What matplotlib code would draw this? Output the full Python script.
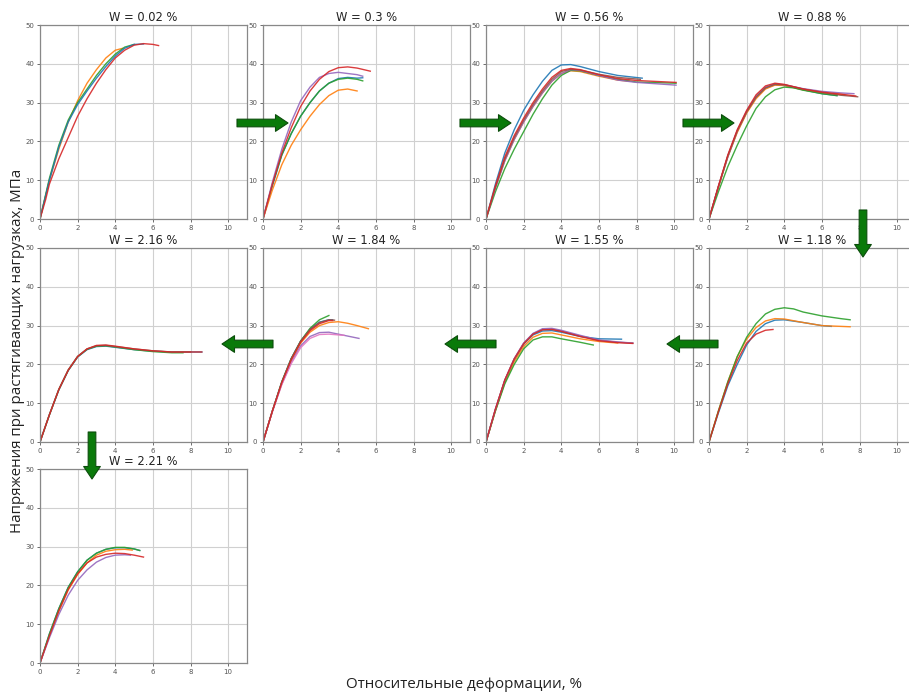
import matplotlib
matplotlib.use("Agg")
import matplotlib.pyplot as plt
from matplotlib.patches import FancyArrowPatch

# ---- data: stress-strain curves for each moisture level (strain %, stress MPa) ----
moisture = ["0.02", "0.3", "0.56", "0.88", "1.18", "1.55", "1.84", "2.16", "2.21"]

w_0_02 = [
    ("C1", [0, 0.5, 1, 1.5, 2, 2.5, 3, 3.5, 4, 4.4],
           [0, 10, 18, 25, 30.5, 35, 38.5, 41.5, 43.5, 44]),
    ("C2", [0, 0.5, 1, 1.5, 2, 2.5, 3, 3.5, 4, 4.5, 5],
           [0, 10.5, 19, 25.5, 30, 33.5, 37, 40, 42.5, 44.3, 45]),
    ("C0", [0, 0.5, 1, 1.5, 2, 2.5, 3, 3.5, 4, 4.5, 5, 5.5],
           [0, 10, 18.5, 25, 29.5, 33, 36.3, 39.3, 42, 44, 45, 45.1]),
    ("C3", [0, 0.3, 0.5, 1, 1.5, 2, 2.5, 3, 3.5, 4, 4.5, 5, 5.5, 6, 6.3],
           [0, 5, 9, 15.5, 21, 26.5, 31, 35, 38.5, 41.5, 43.5, 44.8, 45.2, 45, 44.7]),
]

w_0_3 = [
    ("C0", [0, 0.5, 1, 1.5, 2, 2.5, 3, 3.5, 4, 4.5, 5, 5.3],
           [0, 8.5, 16.5, 22, 26.5, 30, 33, 35, 36.2, 36.5, 36.3, 36.4]),
    ("C2", [0, 0.5, 1, 1.5, 2, 2.5, 3, 3.5, 4, 4.5, 5, 5.3],
           [0, 9, 16.5, 22, 26.5, 30, 33, 35, 36, 36.3, 36, 35.6]),
    ("C1", [0, 0.5, 1, 1.5, 2, 2.5, 3, 3.5, 4, 4.5, 5],
           [0, 7.5, 14, 19, 23, 26.5, 29.5, 31.8, 33.2, 33.5, 33]),
    ("C4", [0, 0.5, 1, 1.5, 2, 2.5, 3, 3.5, 4, 4.5, 5, 5.3],
           [0, 9.5, 18, 25, 30.5, 34, 36.5, 37.5, 37.8, 37.5, 37.2, 36.8]),
    ("C3", [0, 0.5, 1, 1.5, 2, 2.5, 3, 3.5, 4, 4.5, 5, 5.7],
           [0, 9, 17, 23.5, 29, 33, 36, 38, 39, 39.2, 38.9, 38.1]),
]

w_0_56 = [
    ("C0", [0, 0.5, 1, 1.5, 2, 2.5, 3, 3.5, 4, 4.5, 5, 6, 7, 8.3],
           [0, 9, 17, 23, 28, 32, 35.5, 38.3, 39.7, 39.8, 39.3, 38, 37, 36.3]),
    ("C1", [0, 0.5, 1, 1.5, 2, 2.5, 3, 3.5, 4, 4.5, 5, 6, 7, 7.6],
           [0, 8, 15, 20.5, 25, 29, 32.5, 35.5, 37.5, 38.2, 38, 36.8, 35.8, 35.5]),
    ("C2", [0, 0.5, 1, 1.5, 2, 2.5, 3, 3.5, 4, 4.5, 5, 6, 7, 8, 10.1],
           [0, 7, 13, 18, 22.5, 27, 31, 34.5, 37, 38.3, 38.2, 37, 36, 35.3, 35]),
    ("C4", [0, 0.5, 1, 1.5, 2, 2.5, 3, 3.5, 4, 4.5, 5, 6, 7, 8, 10.1],
           [0, 8, 15, 20.5, 25, 29, 32.5, 35.5, 37.5, 38.5, 38.3, 37, 35.8, 35.2, 34.5]),
    ("C5", [0, 0.5, 1, 1.5, 2, 2.5, 3, 3.5, 4, 4.5, 5, 6, 7, 8.2],
           [0, 8.2, 15.5, 21, 25.5, 29.5, 33, 36, 38, 38.6, 38.4, 37.3, 36.5, 36]),
    ("C3", [0, 0.5, 1, 1.5, 2, 2.5, 3, 3.5, 4, 4.5, 5, 6, 7, 8, 10.1],
           [0, 8.5, 16, 21.5, 26, 30, 33.5, 36.5, 38.3, 38.8, 38.5, 37.2, 36.2, 35.7, 35.2]),
]

w_0_88 = [
    ("C0", [0, 0.5, 1, 1.5, 2, 2.5, 3, 3.5, 4, 5, 6, 6.8],
           [0, 8.3, 16, 22.5, 27.5, 31.3, 33.7, 34.6, 34.5, 33.3, 32.3, 31.8]),
    ("C1", [0, 0.5, 1, 1.5, 2, 2.5, 3, 3.5, 4, 5, 6, 7.2],
           [0, 8.2, 16, 22.3, 27.3, 31, 33.5, 34.5, 34.4, 33.3, 32.5, 32]),
    ("C2", [0, 0.5, 1, 1.5, 2, 2.5, 3, 3.5, 4, 4.5, 5, 6, 6.8],
           [0, 7, 13.5, 19, 24, 28.5, 31.5, 33.3, 34, 33.8, 33.2, 32.3, 31.8]),
    ("C4", [0, 0.5, 1, 1.5, 2, 2.5, 3, 3.5, 4, 5, 6, 7, 7.7],
           [0, 8.4, 16.2, 22.8, 27.8, 31.6, 34, 34.8, 34.6, 33.6, 32.9, 32.5, 32.3]),
    ("C5", [0, 0.5, 1, 1.5, 2, 2.5, 3, 3.5, 4, 5, 6, 7, 7.9],
           [0, 8.3, 16.3, 22.7, 27.6, 31.4, 33.8, 34.7, 34.6, 33.5, 32.6, 31.9, 31.5]),
    ("C3", [0, 0.5, 1, 1.5, 2, 2.5, 3, 3.5, 4, 5, 6, 7, 7.8],
           [0, 8.5, 16.5, 23, 28, 32, 34.3, 35, 34.7, 33.5, 32.7, 32.2, 31.7]),
]

w_1_18 = [
    ("C0", [0, 0.5, 1, 1.5, 2, 2.5, 3, 3.5, 4, 5, 6, 6.5],
           [0, 7.5, 14.5, 20, 25, 28.5, 30.5, 31.4, 31.5, 30.8, 30, 29.8]),
    ("C1", [0, 0.5, 1, 1.5, 2, 2.5, 3, 3.5, 4, 5, 6, 7, 7.5],
           [0, 8, 15.5, 22, 26.5, 29.5, 31.2, 31.8, 31.7, 30.8, 30, 29.8, 29.7]),
    ("C2", [0, 0.5, 1, 1.5, 2, 2.5, 3, 3.5, 4, 4.5, 5, 6, 7, 7.5],
           [0, 8, 15.5, 22, 27, 30.5, 33, 34.2, 34.6, 34.3, 33.5, 32.5, 31.8, 31.5]),
    ("C3", [0, 0.5, 1, 1.5, 2, 2.5, 3, 3.4],
           [0, 7.8, 15, 21, 25.5, 27.8, 28.8, 29]),
]

w_1_55 = [
    ("C0", [0, 0.5, 1, 1.5, 2, 2.5, 3, 3.5, 4, 5, 6, 7.2],
           [0, 8.3, 15.8, 21.2, 25.2, 27.6, 28.6, 28.7, 28.3, 27.2, 26.6, 26.5]),
    ("C1", [0, 0.5, 1, 1.5, 2, 2.5, 3, 3.5, 4, 5, 6, 7],
           [0, 8, 15.3, 20.7, 24.6, 27, 28, 28.1, 27.6, 26.6, 25.9, 25.5]),
    ("C2", [0, 0.5, 1, 1.5, 2, 2.5, 3, 3.5, 4, 5, 5.7],
           [0, 8, 15, 20, 24, 26.3, 27.1, 27.1, 26.6, 25.7, 25]),
    ("C5", [0, 0.5, 1, 1.5, 2, 2.5, 3, 3.5, 4, 5, 6, 7, 7.8],
           [0, 8.4, 15.9, 21.4, 25.4, 27.9, 29, 29.1, 28.6, 27.3, 26.2, 25.7, 25.5]),
    ("C4", [0, 0.5, 1, 1.5, 2, 2.5, 3, 3.5, 4, 5, 6, 7, 7.8],
           [0, 8.5, 16, 21.5, 25.5, 28, 29.2, 29.3, 28.8, 27.5, 26.3, 25.8, 25.5]),
    ("C3", [0, 0.5, 1, 1.5, 2, 2.5, 3, 3.5, 4, 5, 6, 7, 7.8],
           [0, 8.5, 16, 21.4, 25.3, 27.8, 28.9, 29, 28.5, 27.2, 26.1, 25.6, 25.4]),
]

w_1_84 = [
    ("C0", [0, 0.5, 1, 1.5, 2, 2.5, 3, 3.5, 3.7],
           [0, 8, 15.5, 21.5, 26, 29.1, 30.9, 31.5, 31.5]),
    ("C1", [0, 0.5, 1, 1.5, 2, 2.5, 3, 3.5, 4, 4.5, 5, 5.6],
           [0, 8, 15, 21, 25.5, 28.3, 30, 30.8, 31, 30.6, 30, 29.2]),
    ("C2", [0, 0.5, 1, 1.5, 2, 2.5, 3, 3.5],
           [0, 8, 15.5, 21.5, 26, 29.3, 31.5, 32.6]),
    ("C4", [0, 0.5, 1, 1.5, 2, 2.5, 3, 3.5, 4, 4.5, 5.1],
           [0, 8, 15, 20.5, 24.8, 27.2, 28.2, 28.3, 27.8, 27.3, 26.7]),
    ("C6", [0, 0.5, 1, 1.5, 2, 2.5, 3, 3.5, 4, 4.3],
           [0, 7.8, 14.8, 20.2, 24.3, 26.7, 27.7, 27.8, 27.6, 27.5]),
    ("C5", [0, 0.5, 1, 1.5, 2, 2.5, 3, 3.5, 3.8],
           [0, 8, 15.5, 21.5, 26, 29, 30.8, 31.5, 31.4]),
    ("C3", [0, 0.5, 1, 1.5, 2, 2.5, 3, 3.5, 3.7],
           [0, 8, 15.3, 21.2, 25.7, 28.7, 30.5, 31.3, 31.3]),
]

w_2_16 = [
    ("C0", [0, 0.5, 1, 1.5, 2, 2.5, 3, 3.5, 4, 5, 6, 7, 8, 8.6],
           [0, 7, 13.4, 18.4, 21.9, 23.8, 24.6, 24.7, 24.4, 23.8, 23.4, 23.2, 23.2, 23.2]),
    ("C2", [0, 0.5, 1, 1.5, 2, 2.5, 3, 3.5, 4, 5, 6, 7, 7.6],
           [0, 7, 13.5, 18.5, 22, 23.9, 24.7, 24.8, 24.5, 23.8, 23.3, 23, 23]),
    ("C5", [0, 0.5, 1, 1.5, 2, 2.5, 3, 3.5, 4, 5, 6, 7, 8],
           [0, 7.1, 13.6, 18.6, 22.1, 24, 24.8, 24.9, 24.6, 24, 23.5, 23.2, 23.2]),
    ("C3", [0, 0.5, 1, 1.5, 2, 2.5, 3, 3.5, 4, 5, 6, 7, 8, 8.6],
           [0, 7, 13.5, 18.5, 22, 24, 24.9, 25, 24.7, 24, 23.5, 23.2, 23.2, 23.2]),
]

w_2_21 = [
    ("C0", [0, 0.5, 1, 1.5, 2, 2.5, 3, 3.5, 4, 4.5, 5, 5.3],
           [0, 7.5, 14, 19.5, 23.5, 26.5, 28.3, 29.3, 29.7, 29.7, 29.4, 29]),
    ("C1", [0, 0.5, 1, 1.5, 2, 2.5, 3, 3.5, 4, 4.5, 4.9],
           [0, 7, 13.3, 18.8, 22.8, 25.8, 27.8, 28.8, 29.2, 29.3, 29.1]),
    ("C2", [0, 0.5, 1, 1.5, 2, 2.5, 3, 3.5, 4, 4.5, 5, 5.3],
           [0, 7.5, 14, 19.5, 23.5, 26.5, 28.3, 29.3, 29.8, 29.8, 29.4, 29]),
    ("C4", [0, 0.5, 1, 1.5, 2, 2.5, 3, 3.5, 4, 4.5, 4.8],
           [0, 6.5, 12.5, 17.5, 21.3, 24, 26, 27.2, 27.8, 27.9, 27.8]),
    ("C3", [0, 0.5, 1, 1.5, 2, 2.5, 3, 3.5, 4, 4.5, 5, 5.5],
           [0, 7, 13.5, 19, 23, 25.8, 27.3, 28, 28.3, 28.2, 27.8, 27.3]),
]

panel_curves = [w_0_02, w_0_3, w_0_56, w_0_88, w_1_18, w_1_55, w_1_84, w_2_16, w_2_21]

# ---- layout (pixel geometry of the 909x696 canvas) ----
W, H = 909, 696
fig = plt.figure(figsize=(W / 100, H / 100), dpi=100)

col_left = [40, 263, 486, 709]
row_top = [25, 248, 469]
ax_w, ax_h = 207, 194

# snake order: row 1 left->right, row 2 right->left, row 3 first column
slots = [(0, 0), (0, 1), (0, 2), (0, 3),
         (1, 3), (1, 2), (1, 1), (1, 0),
         (2, 0)]

for (r, c), w, curves in zip(slots, moisture, panel_curves):
    left, top = col_left[c], row_top[r]
    ax = fig.add_axes([left / W, 1 - (top + ax_h) / H, ax_w / W, ax_h / H])
    for color, x, y in curves:
        ax.plot(x, y, color=color, lw=1.0, alpha=0.9)
    ax.set_xlim(0, 11)
    ax.set_ylim(0, 50)
    ax.set_xticks(range(0, 11, 2))
    ax.set_yticks(range(0, 51, 10))
    ax.grid(True, color="#d0d0d0", lw=0.8)
    ax.set_axisbelow(True)
    ax.tick_params(labelsize=5, length=2, width=0.6, colors="#555555", pad=2)
    for s in ax.spines.values():
        s.set_color("#888888")
        s.set_linewidth(0.9)
    ax.set_title(f"W = {w} %", fontsize=8.3, color="#222222", pad=3)

label_font = ["Open Sans", "DejaVu Sans"]
fig.text(18 / W, 1 - 351 / H, "Напряжения при растягивающих нагрузках, МПа",
         rotation=90, ha="center", va="center", fontsize=10.9,
         family=label_font, color="#222222")
fig.text(464 / W, 1 - 685 / H, "Относительные деформации, %",
         ha="center", va="center", fontsize=10.9,
         family=label_font, color="#222222")

# ---- green transition arrows (pixel coordinates: tail -> head) ----
arrows = [
    ((237, 123), (288, 123)),
    ((460, 123), (511, 123)),
    ((683, 123), (734, 123)),
    ((863, 210), (863, 257)),
    ((718, 344), (667, 344)),
    ((496, 344), (445, 344)),
    ((273, 344), (222, 344)),
    ((92, 432), (92, 479)),
]
for (x1, y1), (x2, y2) in arrows:
    fig.add_artist(FancyArrowPatch(
        (x1 / W, 1 - y1 / H), (x2 / W, 1 - y2 / H),
        transform=fig.transFigure,
        arrowstyle="simple,head_length=9,head_width=12,tail_width=5.5",
        mutation_scale=1, shrinkA=0, shrinkB=0,
        fc="#0a7a0a", ec="#0b4d0b", lw=0.8, zorder=5))

fig.savefig("out.png", dpi=100)
